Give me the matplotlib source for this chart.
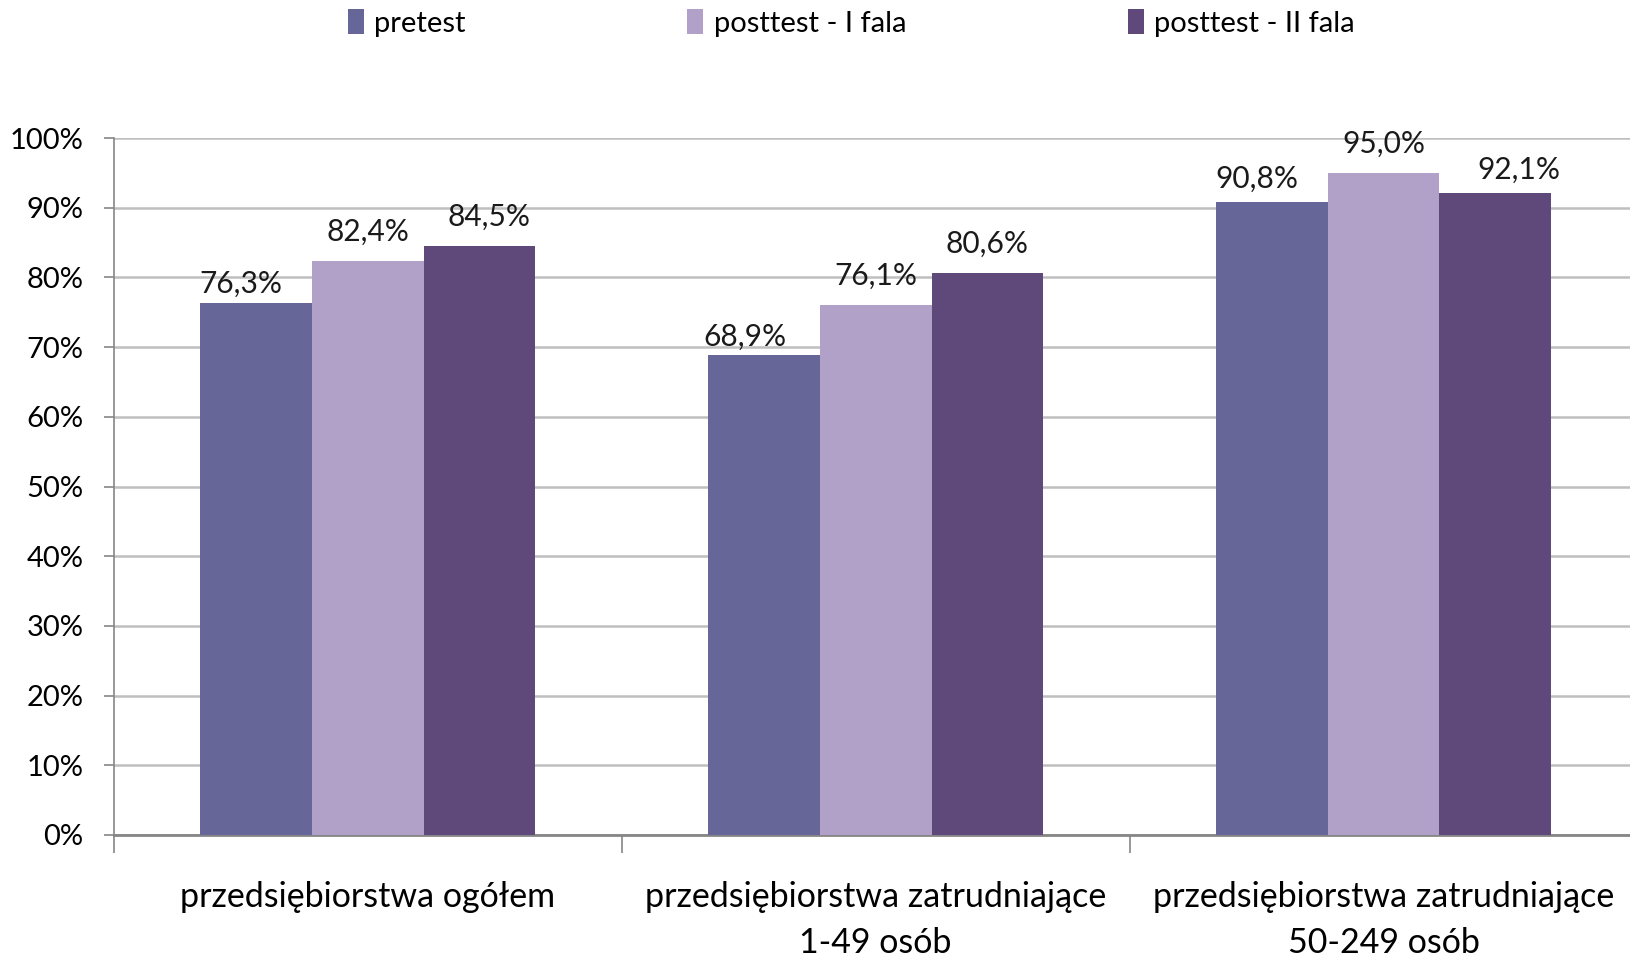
import matplotlib
matplotlib.use("Agg")
import matplotlib.pyplot as plt
import numpy as np

# dane z wykresu
categories = ["przedsiębiorstwa ogółem",
              "przedsiębiorstwa zatrudniające\n1-49 osób",
              "przedsiębiorstwa zatrudniające\n50-249 osób"]
series = ["pretest", "posttest - I fala", "posttest - II fala"]
pretest = [76.3, 68.9, 90.8]
post_1 = [82.4, 76.1, 95.0]
post_2 = [84.5, 80.6, 92.1]
colors = ["#666699", "#B1A0C7", "#5F497A"]

# przesuniecia etykiet (pt) jak w oryginale z Excela
nudge_x = [[-11, 0, 7], [-14, 0, 0], [-11, 0, 17]]
nudge_y = [[0, 7, 7], [-1, 7, 7], [3, 7, 3]]

plt.rcParams['font.family'] = ['Lato', 'DejaVu Sans']

fig = plt.figure(figsize=(16.31, 9.56), dpi=100)
ax = fig.add_axes([0.0699, 0.1266, 0.934, 0.729])

x = np.arange(len(categories))
w = 0.22
for i, (vals, name) in enumerate(zip([pretest, post_1, post_2], series)):
    bars = ax.bar(x + (i - 1) * w, vals, w, color=colors[i], label=name, zorder=3)
    for j, (b, v) in enumerate(zip(bars, vals)):
        ax.annotate(("%.1f%%" % v).replace(".", ","),
                    (b.get_x() + b.get_width() / 2, v),
                    xytext=(nudge_x[j][i], 4 + nudge_y[j][i]), textcoords="offset points",
                    ha="center", va="bottom", fontsize=21.5, color="#1a1a1a")

ax.set_xlim(-0.5, 2.5)
ax.set_ylim(0, 100)
ax.set_yticks(range(0, 101, 10))
ax.set_yticklabels(["%d%%" % t for t in range(0, 101, 10)], fontsize=21)
ax.yaxis.grid(True, color="#BFBFBF", linewidth=1.8, zorder=0)
ax.tick_params(axis="y", length=7, width=1.2, color="#868686", pad=15)

ax.set_xticks(x)
ax.set_xticklabels(categories, fontsize=24.5, linespacing=1.55)
ax.set_xticks([-0.5, 0.5, 1.5, 2.5], minor=True)
ax.tick_params(axis="x", which="major", length=0, pad=33)
ax.tick_params(axis="x", which="minor", length=13, width=1.2, color="#868686")

for s in ["top", "right"]:
    ax.spines[s].set_visible(False)
ax.spines["left"].set_color("#868686")
ax.spines["left"].set_linewidth(1.2)
ax.spines["bottom"].set_color("#868686")
ax.spines["bottom"].set_linewidth(2)

fig.legend(loc="center", bbox_to_anchor=(0.522, 0.976), ncol=3, frameon=False,
           fontsize=21, handlelength=0.55, handleheight=0.9, handletextpad=0.35,
           columnspacing=7.6)

fig.savefig("out.png", dpi=100, facecolor="white")
